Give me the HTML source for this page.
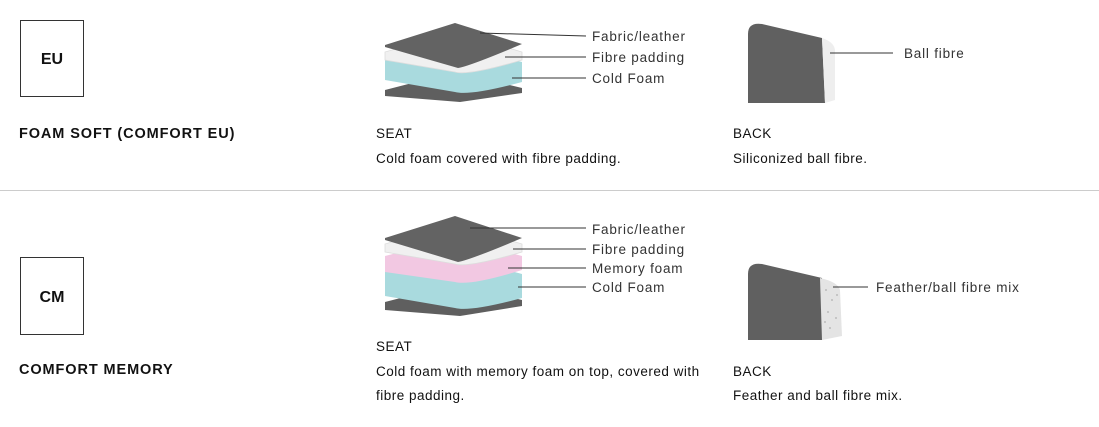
<!DOCTYPE html>
<html><head><meta charset="utf-8"><style>
html,body{margin:0;padding:0;background:#fff;}
svg{display:block;font-family:"Liberation Sans",sans-serif;}
.lab{font-size:13.5px;fill:#333;letter-spacing:0.8px;}
.body{font-size:13.5px;fill:#111;letter-spacing:0.5px;}
.ttl{font-size:14.5px;font-weight:bold;fill:#111;letter-spacing:0.9px;}
</style></head><body>
<svg width="1099" height="427" viewBox="0 0 1099 427" xmlns="http://www.w3.org/2000/svg">
<!-- Row 1 -->
<rect x="20.5" y="20.5" width="63" height="76" fill="none" stroke="#333" stroke-width="1"/>
<text x="52" y="64" font-size="16" font-weight="bold" text-anchor="middle" fill="#111">EU</text>
<text x="19" y="138" class="ttl">FOAM SOFT (COMFORT EU)</text>

<!-- seat 1 -->
<path d="M385,90 L455,72 L522,88 L522,93 L460,102 L385,96 Z" fill="#5f5f5f"/>
<path d="M385,60 L455,45 L522,62 L522,82 Q470,96 455,92 L385,80 Z" fill="#a9dade"/>
<path d="M385,52 L455,32 L522,52 L522,60 Q468,76 455,72 L385,60 Z" fill="#f0f0f0" stroke="#ddd" stroke-width="0.8"/>
<path d="M385,45 L455,23 L522,44 Q470,66 458,68 L385,47 Z" fill="#636363"/>
<line x1="480" y1="33" x2="586" y2="36" stroke="#333" stroke-width="1"/>
<line x1="505" y1="57" x2="586" y2="57" stroke="#333" stroke-width="1"/>
<line x1="512" y1="78" x2="586" y2="78" stroke="#333" stroke-width="1"/>
<text x="592" y="41" class="lab">Fabric/leather</text>
<text x="592" y="62" class="lab">Fibre padding</text>
<text x="592" y="83" class="lab">Cold Foam</text>

<!-- back 1 -->
<path d="M748,34 Q748,22 762,24 L822,38 L825,103 L748,103 Z" fill="#606060"/>
<path d="M822,38 Q834,42 835,50 L835,100 L825,103 Z" fill="#eeeeee"/>
<line x1="830" y1="53" x2="893" y2="53" stroke="#333" stroke-width="1"/>
<text x="904" y="58" class="lab">Ball fibre</text>

<text x="376" y="138" class="body">SEAT</text>
<text x="376" y="163" class="body">Cold foam covered with fibre padding.</text>
<text x="733" y="138" class="body">BACK</text>
<text x="733" y="163" class="body">Siliconized ball fibre.</text>

<line x1="0" y1="190.5" x2="1099" y2="190.5" stroke="#ccc" stroke-width="1"/>

<!-- Row 2 -->
<rect x="20.5" y="257.5" width="63" height="77" fill="none" stroke="#333" stroke-width="1"/>
<text x="52" y="302" font-size="16" font-weight="bold" text-anchor="middle" fill="#111">CM</text>
<text x="19" y="374" class="ttl">COMFORT MEMORY</text>

<!-- seat 2 -->
<path d="M385,302 L455,284 L522,300 L522,306 L460,316 L385,310 Z" fill="#5f5f5f"/>
<path d="M385,272 L455,256 L522,274 L522,298 Q470,312 455,308 L385,296 Z" fill="#a9dade"/>
<path d="M385,256 L455,238 L522,256 L522,270 Q470,286 455,282 L385,272 Z" fill="#f2c8e2"/>
<path d="M385,244 L455,224 L522,244 L522,252 Q468,268 455,264 L385,252 Z" fill="#f0f0f0" stroke="#ddd" stroke-width="0.8"/>
<path d="M385,238 L455,216 L522,238 Q470,260 458,262 L385,240 Z" fill="#636363"/>
<line x1="470" y1="228" x2="586" y2="228" stroke="#333" stroke-width="1"/>
<line x1="513" y1="249" x2="586" y2="249" stroke="#333" stroke-width="1"/>
<line x1="508" y1="268" x2="586" y2="268" stroke="#333" stroke-width="1"/>
<line x1="518" y1="287" x2="586" y2="287" stroke="#333" stroke-width="1"/>
<text x="592" y="234" class="lab">Fabric/leather</text>
<text x="592" y="254" class="lab">Fibre padding</text>
<text x="592" y="273" class="lab">Memory foam</text>
<text x="592" y="292" class="lab">Cold Foam</text>

<!-- back 2 -->
<path d="M748,274 Q748,262 762,264 L822,278 L822,340 L748,340 Z" fill="#606060"/>
<path d="M820,278 Q838,282 840,290 L842,336 L822,340 Z" fill="#e4e4e4"/>
<g fill="#bbb">
<circle cx="826" cy="290" r="1"/><circle cx="832" cy="300" r="1"/><circle cx="828" cy="312" r="1"/><circle cx="836" cy="318" r="1"/><circle cx="830" cy="328" r="1"/><circle cx="837" cy="295" r="1"/><circle cx="825" cy="322" r="1"/>
</g>
<line x1="833" y1="287" x2="868" y2="287" stroke="#333" stroke-width="1"/>
<text x="876" y="292" class="lab">Feather/ball fibre mix</text>

<text x="376" y="351" class="body">SEAT</text>
<text x="376" y="376" class="body">Cold foam with memory foam on top, covered with</text>
<text x="376" y="400" class="body">fibre padding.</text>
<text x="733" y="376" class="body">BACK</text>
<text x="733" y="400" class="body">Feather and ball fibre mix.</text>
</svg>
</body></html>
